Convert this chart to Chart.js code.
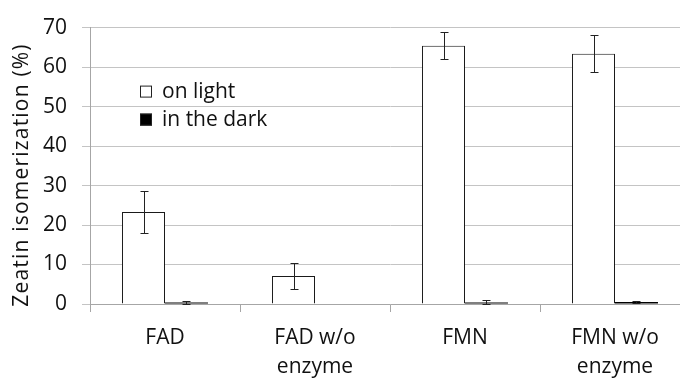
<!DOCTYPE html>
<html>
<head>
	<meta charset="utf-8">
	<title>Zeatin isomerization</title>
	<style>
		body { margin: 0; overflow: hidden; background: #fff; }
		#wrap { width: 680px; height: 379px; overflow: hidden; }
	</style>
</head>
<body>
	<div id="wrap"><canvas id="bar1" width="690" height="379"></canvas></div>

	<script src="https://cdn.jsdelivr.net/npm/chart.js@4"></script>
	<script>
		const categories = [['FAD'], ['FAD w/o', 'enzyme'], ['FMN'], ['FMN w/o', 'enzyme']];
		const lightValues = [23.3, 7.1, 65.4, 63.4];
		const lightErrors = [5.2, 3.2, 3.4, 4.6];
		const darkValues = [0.4, 0.15, 0.4, 0.5];
		const darkErrors = [0.3, 0, 0.5, 0.3];
		const yMin = 0, yMax = 70, yStep = 10;
		const seriesNames = ['on light', 'in the dark'];
		const yTitle = 'Zeatin isomerization (%)';

		const errorSets = [lightErrors, darkErrors];
		const FONT = '"Open Sans", sans-serif';
		const TEXT = '#111';
		const GRID = '#c4c4c4';
		const AXIS = '#a6a6a6';

		// error bars, placed through the y scale
		const errorBars = {
			id: 'errorBars',
			afterDatasetsDraw(chart) {
				const ctx = chart.ctx;
				const y = chart.scales.y;
				ctx.save();
				ctx.strokeStyle = '#222';
				ctx.lineWidth = 1;
				chart.data.datasets.forEach((ds, i) => {
					chart.getDatasetMeta(i).data.forEach((bar, j) => {
						let e = errorSets[i][j];
						if (!e) return;
						let v = ds.data[j];
						let top = Math.round(y.getPixelForValue(v + e)) + 0.5;
						let bot = Math.round(y.getPixelForValue(Math.max(v - e, 0))) + 0.5;
						let x = Math.round(bar.x) + 0.5;
						ctx.beginPath();
						ctx.moveTo(x, top); ctx.lineTo(x, bot);
						ctx.moveTo(x - 4, top); ctx.lineTo(x + 4, top);
						ctx.moveTo(x - 4, bot); ctx.lineTo(x + 4, bot);
						ctx.stroke();
					});
				});
				ctx.restore();
			}
		};

		// legend inside the plot and the rotated axis title
		const extras = {
			id: 'extras',
			afterDraw(chart) {
				const ctx = chart.ctx;
				const a = chart.chartArea;
				ctx.save();
				ctx.font = '21px ' + FONT;
				ctx.textBaseline = 'middle';
				chart.data.datasets.forEach((ds, i) => {
					let bx = a.left + 50, by = a.top + 58 + i * 28;
					ctx.fillStyle = ds.backgroundColor;
					ctx.fillRect(bx, by, 12, 12);
					ctx.strokeStyle = '#222';
					ctx.lineWidth = 1;
					ctx.strokeRect(bx + 0.5, by + 0.5, 11, 11);
					ctx.fillStyle = TEXT;
					ctx.fillText(ds.label, bx + 22, by + 6);
				});
				ctx.translate(22, 175);
				ctx.rotate(-Math.PI / 2);
				ctx.textAlign = 'center';
				ctx.letterSpacing = '1.2px';
				ctx.fillText(yTitle, 0, 0);
				ctx.restore();
			}
		};

		let ctx = document.getElementById('bar1').getContext('2d');
		let chart = new Chart(ctx, {
			type: 'bar',
			data: {
				labels: categories,
				datasets: [
					{
						label: seriesNames[0],
						data: lightValues,
						backgroundColor: '#ffffff',
						borderColor: '#1a1a1a',
						borderWidth: 1
					},
					{
						label: seriesNames[1],
						data: darkValues,
						backgroundColor: '#000000',
						borderWidth: 0
					}
				]
			},
			options: {
				responsive: false,
				animation: false,
				layout: { padding: { top: 24, left: 0, right: 0, bottom: 0 } },
				datasets: { bar: { categoryPercentage: 0.573, barPercentage: 1 } },
				plugins: { legend: { display: false }, tooltip: { enabled: false } },
				scales: {
					x: {
						afterFit: s => { s.height = 75; },
						grid: { drawOnChartArea: false, tickLength: 8, color: AXIS },
						border: { color: AXIS },
						ticks: { color: TEXT, padding: 12, font: { family: FONT, size: 21, lineHeight: 1.38 } }
					},
					y: {
						min: yMin,
						max: yMax,
						afterFit: s => { s.width = 90; },
						grid: { color: GRID, tickLength: 8 },
						border: { color: AXIS },
						ticks: { stepSize: yStep, color: TEXT, padding: 15, font: { family: FONT, size: 21 } }
					}
				}
			},
			plugins: [errorBars, extras]
		});
	</script>
</body>
</html>
